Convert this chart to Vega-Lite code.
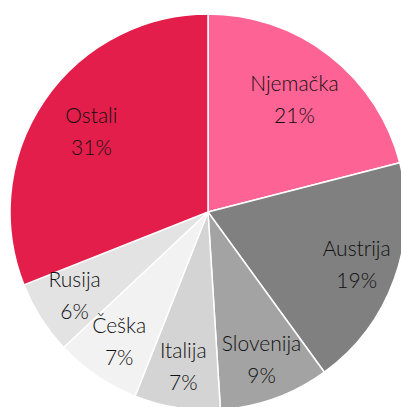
{
  "$schema": "https://vega.github.io/schema/vega-lite/v6.json",
  "autosize": "none",
  "width": 386,
  "height": 390,
  "padding": {"left": 15, "top": 17, "right": 0, "bottom": 0},
  "background": "white",
  "view": {"stroke": null},
  "data": {
    "values": [
      {"zemlja": "Njemačka", "udio": 21, "oznaka": "21%", "red": 1},
      {"zemlja": "Austrija", "udio": 19, "oznaka": "19%", "red": 2},
      {"zemlja": "Slovenija", "udio": 9, "oznaka": "9%", "red": 3},
      {"zemlja": "Italija", "udio": 7, "oznaka": "7%", "red": 4},
      {"zemlja": "Češka", "udio": 7, "oznaka": "7%", "red": 5},
      {"zemlja": "Rusija", "udio": 6, "oznaka": "6%", "red": 6},
      {"zemlja": "Ostali", "udio": 31, "oznaka": "31%", "red": 7}
    ]
  },
  "encoding": {
    "theta": {"field": "udio", "type": "quantitative", "stack": true},
    "order": {"field": "red", "type": "quantitative"}
  },
  "layer": [
    {
      "mark": {"type": "arc", "radius": 198, "stroke": "white", "strokeWidth": 1.5},
      "encoding": {
        "color": {
          "field": "zemlja",
          "type": "nominal",
          "legend": null,
          "scale": {
            "domain": ["Njemačka", "Austrija", "Slovenija", "Italija", "Češka", "Rusija", "Ostali"],
            "range": ["#fd6394", "#808080", "#a3a3a3", "#d4d4d4", "#f2f2f2", "#e3e3e3", "#e31e4b"]
          }
        }
      }
    },
    {
      "mark": {"type": "text", "radius": 141, "dy": -16, "font": "Lato", "fontSize": 21, "fontWeight": 300, "color": "#111111"},
      "encoding": {
        "text": {"field": "zemlja", "type": "nominal"},
        "opacity": {"condition": {"test": "datum.udio >= 20", "value": 1}, "value": 0}
      }
    },
    {
      "mark": {"type": "text", "radius": 141, "dy": 16, "font": "Lato", "fontSize": 21, "fontWeight": 300, "color": "#111111"},
      "encoding": {
        "text": {"field": "oznaka", "type": "nominal"},
        "opacity": {"condition": {"test": "datum.udio >= 20", "value": 1}, "value": 0}
      }
    },
    {
      "mark": {"type": "text", "radius": 158, "dy": -16, "font": "Lato", "fontSize": 21, "fontWeight": 300, "color": "#111111"},
      "encoding": {
        "text": {"field": "zemlja", "type": "nominal"},
        "opacity": {"condition": {"test": "datum.udio < 20", "value": 1}, "value": 0}
      }
    },
    {
      "mark": {"type": "text", "radius": 158, "dy": 16, "font": "Lato", "fontSize": 21, "fontWeight": 300, "color": "#111111"},
      "encoding": {
        "text": {"field": "oznaka", "type": "nominal"},
        "opacity": {"condition": {"test": "datum.udio < 20", "value": 1}, "value": 0}
      }
    }
  ]
}
